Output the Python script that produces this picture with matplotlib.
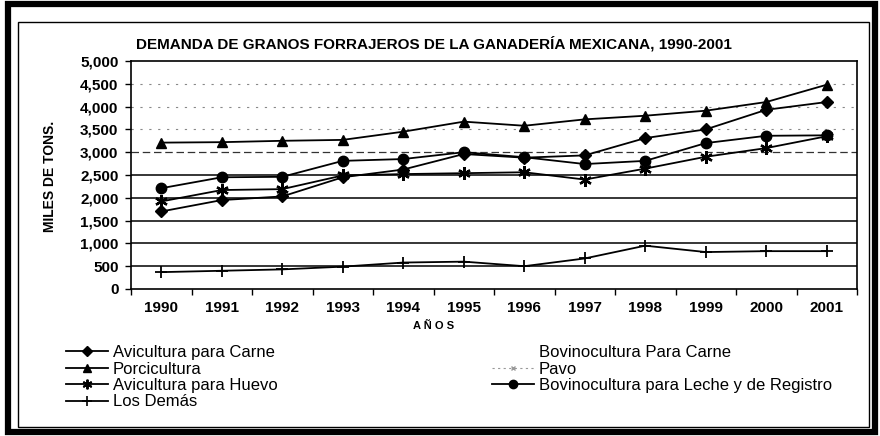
import numpy as np
import matplotlib
matplotlib.use('Agg')
import matplotlib.pyplot as plt
from matplotlib.lines import Line2D
from matplotlib.patches import Rectangle

plt.rcParams['font.family'] = ['Liberation Sans', 'DejaVu Sans']

# Data (miles de toneladas)
years = ['1990', '1991', '1992', '1993', '1994', '1995',
         '1996', '1997', '1998', '1999', '2000', '2001']
avicultura_carne = [1700, 1950, 2030, 2450, 2620, 2960, 2880, 2930, 3310, 3500, 3930, 4100]
porcicultura = [3210, 3220, 3250, 3270, 3450, 3670, 3580, 3720, 3800, 3910, 4100, 4480]
avicultura_huevo = [1920, 2170, 2190, 2490, 2520, 2540, 2560, 2400, 2640, 2900, 3090, 3350]
bovino_leche = [2210, 2450, 2460, 2810, 2850, 3000, 2890, 2740, 2810, 3200, 3360, 3370]
los_demas = [370, 400, 430, 490, 580, 600, 500, 670, 950, 810, 830, 830]
y_ticks = [0, 500, 1000, 1500, 2000, 2500, 3000, 3500, 4000, 4500, 5000]

W, H = 880, 436
fig = plt.figure(figsize=(8.8, 4.36), dpi=100)
ax = fig.add_axes([131 / W, 1 - 289 / H, (857 - 131) / W, (289 - 61) / H])

x = np.arange(len(years))
lw = 1.3
ax.plot(x, porcicultura, color='black', lw=lw, marker='^', ms=7.5, zorder=3)
ax.plot(x, bovino_leche, color='black', lw=lw, marker='o', ms=7.5, zorder=3)
ax.plot(x, avicultura_carne, color='black', lw=lw, marker='D', ms=6.5, zorder=3)
ax.plot(x, avicultura_huevo, color='black', lw=lw, marker=(6, 2, 0), ms=9, mew=1.7, zorder=3)
ax.plot(x, los_demas, color='black', lw=lw, marker='+', ms=9, mew=1.3, zorder=3)

# axes / ticks, Excel style (ticks between categories)
ax.set_xlim(-0.5, len(years) - 0.5)
ax.set_ylim(0, 5000)
ax.set_xticks(np.arange(-0.5, len(years), 1))
ax.set_xticklabels([])
ax.set_xticks(x, minor=True)
ax.set_xticklabels(years, minor=True, fontsize=11, fontweight='bold')
ax.tick_params(axis='x', which='major', direction='out', length=4, width=1)
ax.tick_params(axis='x', which='minor', length=0, pad=9)
ax.set_yticks(y_ticks)
ax.set_yticklabels([f'{v:,}' for v in y_ticks], fontsize=11, fontweight='bold')
ax.tick_params(axis='y', direction='out', length=4, width=1, pad=5)
for s in ax.spines.values():
    s.set_linewidth(1.2)

# gridlines (the upper ones look faint in the reference)
for v in y_ticks[1:-1]:
    if v <= 2500:
        ax.axhline(v, color='black', lw=1.1, zorder=1)
    elif v == 3000:
        ax.axhline(v, color='#333333', lw=0.9, ls=(0, (6, 3)), zorder=1)
    else:
        ax.axhline(v, color='#888888', lw=0.8, ls=(0, (2, 6)), zorder=1)

fig.text(434 / W, 1 - 44 / H, 'DEMANDA DE GRANOS FORRAJEROS DE LA GANADERÍA MEXICANA, 1990-2001',
         ha='center', va='center', fontsize=11, fontweight='bold')
fig.text(50 / W, 1 - 176 / H, 'MILES DE TONS.', rotation=90, ha='center', va='center',
         fontsize=10, fontweight='bold')
fig.text(434 / W, 1 - 326 / H, 'A Ñ O S', ha='center', va='center', fontsize=8, fontweight='bold')

# legend, two columns
left_handles = [
    Line2D([], [], color='black', lw=lw, marker='D', ms=5),
    Line2D([], [], color='black', lw=lw, marker='^', ms=6),
    Line2D([], [], color='black', lw=lw, marker=(6, 2, 0), ms=7, mew=1.4),
    Line2D([], [], color='black', lw=lw, marker='+', ms=7, mew=1.2),
]
left_labels = ['Avicultura para Carne', 'Porcicultura', 'Avicultura para Huevo', 'Los Demás']
right_handles = [
    Line2D([], [], color='white', lw=lw),
    Line2D([], [], color='#999999', lw=0.8, ls=(0, (2, 3)), marker='x', ms=3),
    Line2D([], [], color='black', lw=lw, marker='o', ms=6),
]
right_labels = ['Bovinocultura Para Carne', 'Pavo', 'Bovinocultura para Leche y de Registro']

common = dict(loc='upper left', frameon=False, borderpad=0, borderaxespad=0,
              fontsize=12, handlelength=2.5, handletextpad=0.3, labelspacing=0.09)
fig.legend(left_handles, left_labels, bbox_to_anchor=(66 / W, 1 - 345 / H), **common)
fig.legend(right_handles, right_labels, bbox_to_anchor=(492 / W, 1 - 345 / H), **common)

# frame around the whole chart
fig.patches.append(Rectangle((8 / W, 4 / H), 867 / W, 428 / H, transform=fig.transFigure,
                             fill=False, edgecolor='black', lw=4.5))
fig.patches.append(Rectangle((18 / W, 9 / H), 851 / W, 405 / H, transform=fig.transFigure,
                             fill=False, edgecolor='black', lw=1.0))

fig.savefig('out.png', dpi=100)
